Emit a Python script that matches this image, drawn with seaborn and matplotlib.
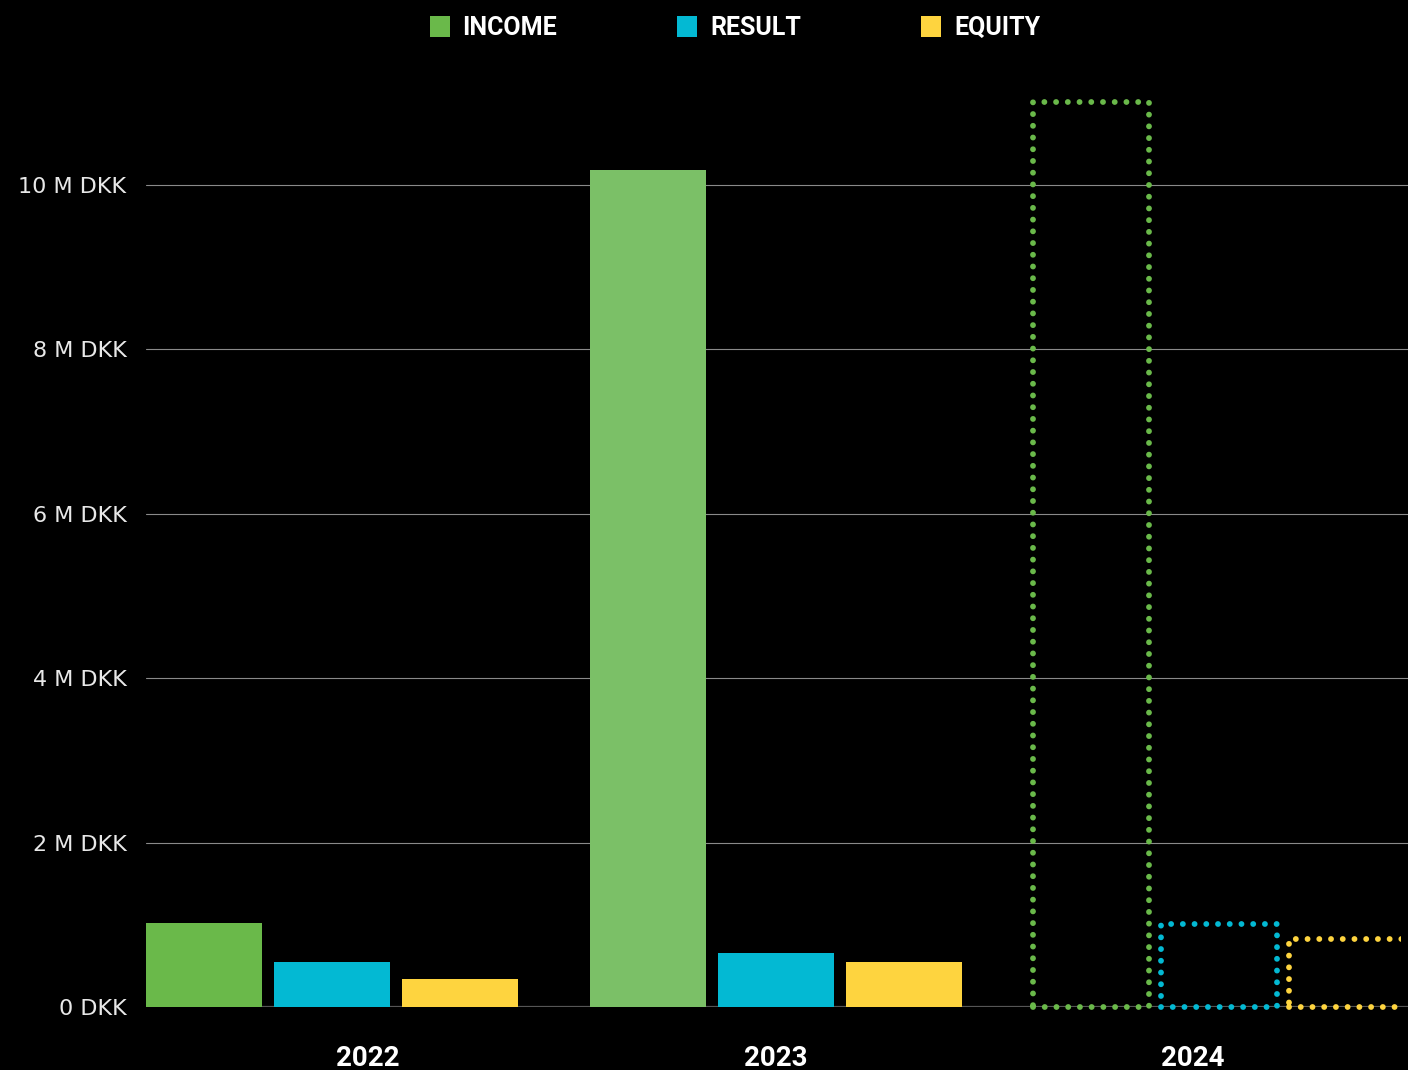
import pandas as pd
import numpy as np
import matplotlib
matplotlib.use('Agg')
import matplotlib.pyplot as plt
from matplotlib.patches import Patch
from matplotlib.transforms import Bbox, TransformedBbox
import seaborn as sns

# values in million DKK
years = ['2022', '2023', '2024']
series = ['INCOME', 'RESULT', 'EQUITY']
income = [1.02, 10.18, 11.01]
result = [0.55, 0.66, 1.01]
equity = [0.34, 0.55, 0.83]
yticks = [0, 2, 4, 6, 8, 10]
ytick_labels = ['0 DKK', '2 M DKK', '4 M DKK', '6 M DKK', '8 M DKK', '10 M DKK']
forecast_year = '2024'

colors = {'INCOME': '#6ab94a', 'RESULT': '#03b9d3', 'EQUITY': '#fed43f'}


def build_plot():
    df = pd.DataFrame({'year': years, 'INCOME': income, 'RESULT': result, 'EQUITY': equity})
    df = df.melt(id_vars='year', var_name='series', value_name='value')

    sns.set_style('dark')
    plt.rcParams['font.family'] = ['Roboto', 'DejaVu Sans']

    fig = plt.figure(figsize=(14.08, 10.7), dpi=100, facecolor='black')
    ax = fig.add_axes([146 / 1408, 63 / 1070, 1 - 146 / 1408, 947 / 1070])
    ax.set_facecolor('black')

    sns.barplot(data=df, x='year', y='value', hue='series', hue_order=series,
                order=years, palette=colors, width=0.866, gap=0.094,
                saturation=1, legend=False, linewidth=0, ax=ax, zorder=3)

    # forecast year drawn as dotted outlines only
    # clip at the right edge (the last box runs off the chart) but not at the bottom
    clip = TransformedBbox(Bbox([[-0.1, -0.05], [0.9945, 1.1]]), ax.transAxes)
    fi = years.index(forecast_year)
    for name, cont in zip(series, ax.containers):
        bar = cont.patches[fi]
        bar.set_facecolor('none')
        bar.set_edgecolor(colors[name])
        bar.set_linewidth(4.2)
        bar.set_linestyle((0, (0.01, 2.0)))
        bar.set_capstyle('round')
        bar.set_clip_box(clip)
        bar.set_zorder(4)
    # 2023 income bar is a lighter green in the original
    ax.containers[0].patches[1].set_facecolor('#7bc067')

    ax.set_ylim(0, 11.52)
    ax.set_xlim(-0.42, 2.426)
    ax.set_yticks(yticks)
    ax.set_yticklabels(ytick_labels, fontsize=16, color='#e8e8e8', family=['DejaVu Sans'])
    ax.set_xticks([0.08, 1.0, 1.94])
    ax.set_xticklabels(years, fontsize=20, fontweight='bold', color='white')
    ax.tick_params(axis='y', length=0, pad=14)
    ax.tick_params(axis='x', length=0, pad=27)
    ax.set_xlabel('')
    ax.set_ylabel('')
    ax.grid(axis='y', color='#8a8a8a', linewidth=0.8, zorder=0)
    ax.grid(axis='x', visible=False)
    ax.axhline(0, color='#555555', linewidth=1.6, zorder=1)
    for s in ax.spines.values():
        s.set_visible(False)
    ax.set_axisbelow(True)

    handles = [Patch(facecolor=colors[n], edgecolor='none', label=n) for n in series]
    leg = fig.legend(handles=handles, loc='center', bbox_to_anchor=(0.522, 0.974), ncol=3,
                     frameon=False, handlelength=0.8, handleheight=0.9, handletextpad=0.52,
                     columnspacing=4.8, prop={'weight': 'bold', 'size': 18})
    for t in leg.get_texts():
        t.set_color('white')

    fig.savefig('out.png', dpi=100, facecolor='black')


if __name__ == "__main__":
    build_plot()
